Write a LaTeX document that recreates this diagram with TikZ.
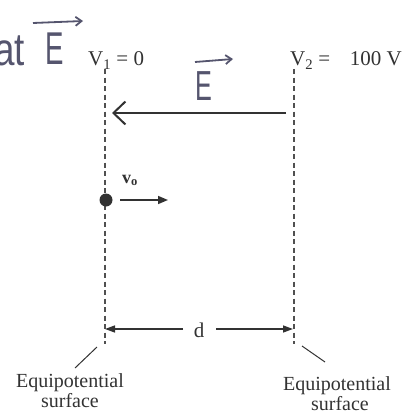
\documentclass[tikz,border=0pt]{standalone}
\usepackage{fontspec}
\setmainfont{Liberation Serif}
\newfontfamily\handfont{Liberation Sans}
\usetikzlibrary{arrows.meta}
\definecolor{ink}{RGB}{50,50,50}
\definecolor{lineg}{RGB}{80,80,80}
\definecolor{handc}{RGB}{85,85,110}
\begin{document}
\begin{tikzpicture}[x=1pt,y=-1pt,
  printtxt/.style={text=ink,inner sep=0pt,font=\fontsize{21}{24}\selectfont},
  handtxt/.style={text=handc,inner sep=0pt},
  eqline/.style={draw=lineg,line width=1.2pt,dash pattern=on 5pt off 3.5pt},
  fieldarrow/.style={draw=ink,line width=2.4pt,-{Straight Barb[length=12pt,width=23pt,line width=2pt]}},
  handarrow/.style={draw=handc,line width=1.8pt,-{Straight Barb[length=6pt,width=9pt,line width=1.8pt]}},
  darrow/.style={draw=ink,line width=1.4pt,-{Triangle[length=10pt,width=7pt]}},
  leader/.style={draw=ink,line width=1pt}]
\useasboundingbox (0,0) rectangle (404,412);
\clip (0,0) rectangle (404,412);
% equipotential lines
\coordinate (l1t) at (105,69); \coordinate (l1b) at (105,344);
\coordinate (l2t) at (294,69); \coordinate (l2b) at (294,344);
\draw[eqline] (l1t) -- (l1b);
\draw[eqline] (l2t) -- (l2b);
% potentials
\node[printtxt,anchor=base west] (v1) at (88,66) {V\textsubscript{1} = 0};
\node[printtxt,anchor=base west] (v2) at (290,66) {V\textsubscript{2} =};
\node[printtxt,anchor=base east] (v2val) at (402,66) {100 V};
% field arrow
\coordinate (ea) at (286,113); \coordinate (eb) at (112,113);
\draw[fieldarrow] (ea) -- (eb);
% handwritten E over arrow
\node[handtxt,anchor=base] (emid) at (203.5,100) {\handfont\scalebox{0.6}[1]{\fontsize{42}{42}\selectfont E}};
\coordinate (ema) at (195,62); \coordinate (emb) at (233,59);
\draw[handarrow] (ema) -- (emb);
% handwritten "at E" top left
\node[handtxt,anchor=base east] (hat) at (25,66) {\handfont\scalebox{0.8}[1]{\fontsize{46}{46}\selectfont at}};
\node[handtxt,anchor=base west] (etl) at (45,65) {\handfont\scalebox{0.6}[1]{\fontsize{46}{46}\selectfont E}};
\coordinate (eta) at (33,23); \coordinate (etb) at (83,21);
\draw[handarrow] (eta) -- (etb);
% charge and velocity
\node[circle,fill=ink,minimum size=13pt,inner sep=0pt] (q) at (106,200) {};
\coordinate (va) at (120,200); \coordinate (vb) at (168,200);
\draw[ink,line width=1.6pt,-{Triangle[length=10pt,width=8pt]}] (va) -- (vb);
\node[text=ink,inner sep=0pt,anchor=base west,font=\bfseries\fontsize{18}{18}\selectfont] (v0) at (122,183) {v\textsubscript{o}};
% distance d
\node[printtxt,anchor=base] (d) at (199,337) {d};
\coordinate (dl) at (105,329); \coordinate (dr) at (293,329);
\coordinate (dla) at (183,329); \coordinate (dra) at (216,329);
\draw[darrow] (dla) -- (dl);
\draw[darrow] (dra) -- (dr);
% leaders
\coordinate (ll1) at (97,347); \coordinate (ll2) at (75,368);
\coordinate (lr1) at (302,346); \coordinate (lr2) at (325,362);
\draw[leader] (ll1) -- (ll2);
\draw[leader] (lr1) -- (lr2);
% labels
\node[printtxt,anchor=base,font=\fontsize{20}{24}\selectfont] (eq1a) at (70,387) {Equipotential};
\node[printtxt,anchor=base,font=\fontsize{20}{24}\selectfont] (eq1b) at (70,407) {surface};
\node[printtxt,anchor=base,font=\fontsize{20}{24}\selectfont] (eq2a) at (337,390) {Equipotential};
\node[printtxt,anchor=base,font=\fontsize{20}{24}\selectfont] (eq2b) at (340,410) {surface};
\end{tikzpicture}
\end{document}
